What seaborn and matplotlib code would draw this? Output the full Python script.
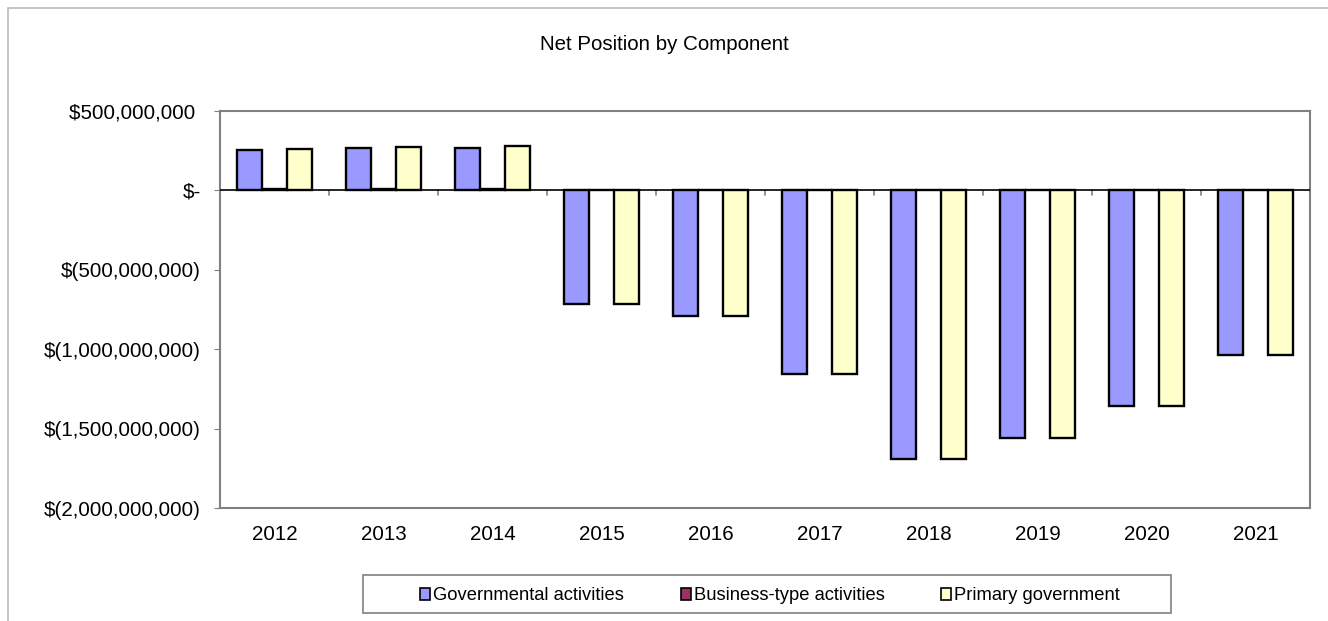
import numpy as np
import pandas as pd
import matplotlib
matplotlib.use('Agg')
import matplotlib.pyplot as plt
import matplotlib.ticker as mticker
import matplotlib.patches as mpatches
import seaborn as sns

# data
years = ['2012', '2013', '2014', '2015', '2016', '2017', '2018', '2019', '2020', '2021']
governmental = [255e6, 265e6, 269e6, -718e6, -794e6, -1158e6, -1689e6, -1557e6, -1355e6, -1039e6]
business = [6e6, 6e6, 9e6, 0, 0, 0, 0, 0, 0, 0]
primary = [261e6, 271e6, 278e6, -718e6, -794e6, -1158e6, -1689e6, -1557e6, -1355e6, -1039e6]
series = ['Governmental activities', 'Business-type activities', 'Primary government']
colors = ['#9999FF', '#993366', '#FFFFCC']

df = pd.DataFrame({'Year': years * 3,
                   'Value': governmental + business + primary,
                   'Series': [series[0]] * 10 + [series[1]] * 10 + [series[2]] * 10})

sns.set_style('white')
plt.rcParams['font.family'] = ['Liberation Sans', 'DejaVu Sans']
plt.rcParams['text.color'] = 'black'
plt.rcParams['xtick.color'] = 'black'
plt.rcParams['ytick.color'] = 'black'

W, H = 1328, 621
fs = 14.8
fig = plt.figure(figsize=(W / 100, H / 100), dpi=100)
ax = fig.add_axes([220 / W, 1 - 508 / H, 1090 / W, 397 / H])

sns.barplot(data=df, x='Year', y='Value', hue='Series', hue_order=series,
            palette=colors, width=0.69, edgecolor='black', linewidth=1.7,
            saturation=1, ax=ax, legend=True)

ax.set_ylim(-2e9, 5e8)
ax.set_xlim(-0.5, len(years) - 0.5)
ax.yaxis.set_major_locator(mticker.MultipleLocator(5e8))


def money(v, pos):
    if abs(v) < 1:
        return '$-'
    if v > 0:
        return '${:,.0f} '.format(v)
    return '$({:,.0f})'.format(-v)


ax.yaxis.set_major_formatter(mticker.FuncFormatter(money))
ax.set_xlabel('')
ax.set_ylabel('')
ax.tick_params(axis='y', labelsize=fs, length=4, color='#808080', direction='out', pad=10, left=True)
ax.tick_params(axis='x', labelsize=fs, length=0, pad=12)
for s in ax.spines.values():
    s.set_color('#808080')
    s.set_linewidth(1.5)

# zero line with category tick marks
ax.axhline(0, color='black', linewidth=1.2, zorder=3)
trans = matplotlib.transforms.blended_transform_factory(ax.transData, ax.transAxes)
zero_frac = 2e9 / 2.5e9
for i in range(len(years) - 1):
    ax.plot([i + 0.5, i + 0.5], [zero_frac, zero_frac - 0.012], transform=trans,
            color='#808080', linewidth=1.2, clip_on=False)

leg = ax.legend(loc='center', bbox_to_anchor=(770 / W, 1 - 596 / H), bbox_transform=fig.transFigure,
                ncol=3, frameon=False, fontsize=13.2, handlelength=0.55, handleheight=0.55,
                handletextpad=0.16, columnspacing=3.1, borderpad=0)
for h in leg.legend_handles:
    h.set_edgecolor('black')
    h.set_linewidth(1.2)

# legend frame
fig.add_artist(mpatches.Rectangle((363 / W, 1 - 613 / H), 808 / W, 38 / H, transform=fig.transFigure,
                                  fill=False, edgecolor='#808080', linewidth=1.2))

fig.text(0.5, 1 - 45 / H, 'Net Position by Component', ha='center', va='center', fontsize=fs)

# outer chart border (top and left visible)
fig.add_artist(mpatches.Rectangle((8 / W, -0.1), 1.2, 1 - 8 / H + 0.1, transform=fig.transFigure,
                                  fill=False, edgecolor='#BBBBBB', linewidth=1.2))

fig.savefig('out.png', dpi=100)
